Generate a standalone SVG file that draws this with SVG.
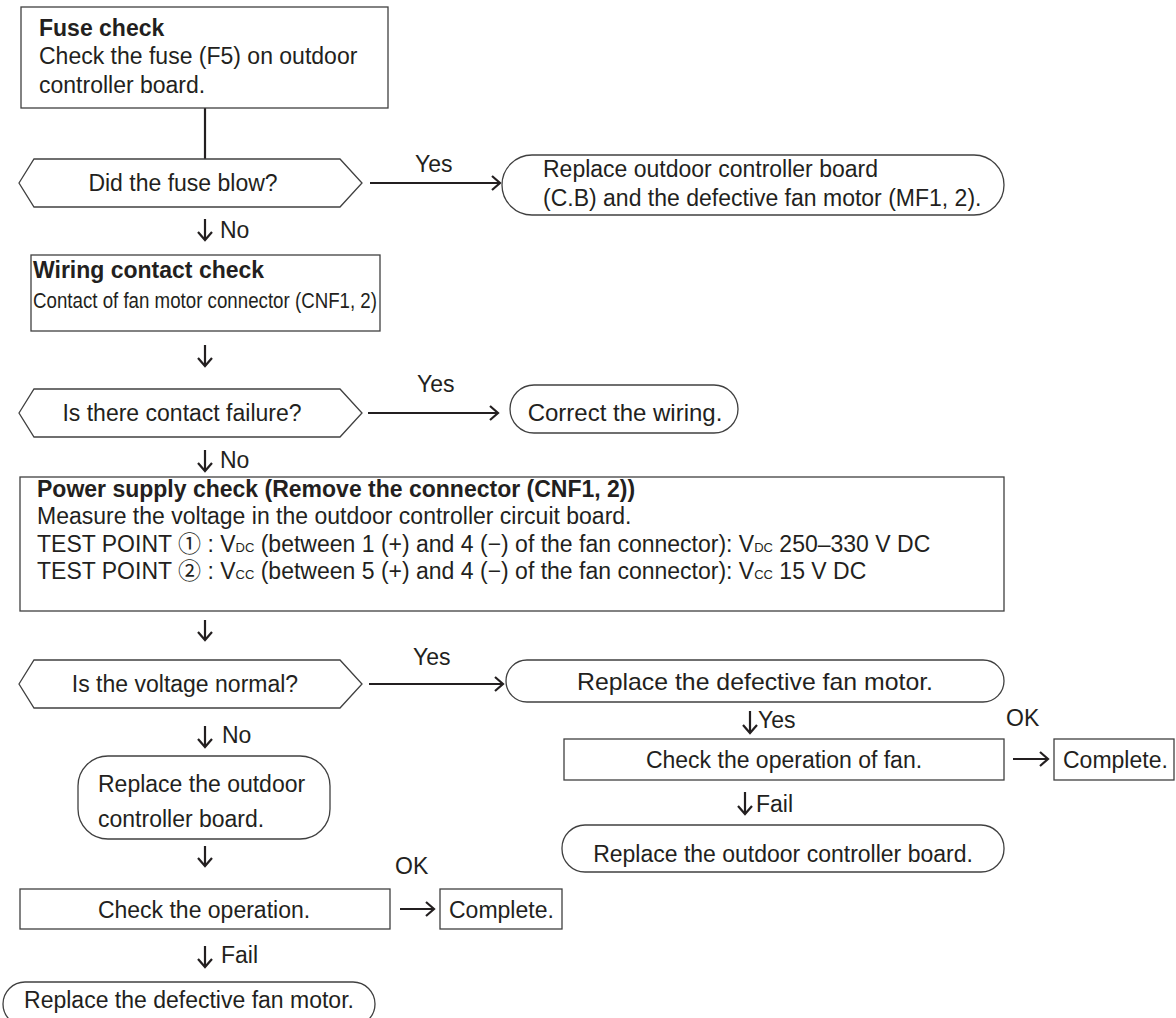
<svg xmlns="http://www.w3.org/2000/svg" width="1176" height="1018" viewBox="0 0 1176 1018">
<style>
text{font-family:"Liberation Sans","Noto Sans CJK JP",sans-serif;font-size:23px;fill:#231f20}
.b{font-weight:bold}
.box{fill:#fff;stroke:#404040;stroke-width:1.3}
.con{fill:none;stroke:#231f20;stroke-width:2.2}
.sub{font-size:13px}
.m{text-anchor:middle}
</style>
<defs>
<marker id="ah" markerWidth="16" markerHeight="16" refX="11" refY="8" orient="auto" markerUnits="userSpaceOnUse">
<path d="M3,1 L11,8 L3,15" fill="none" stroke="#231f20" stroke-width="2.2"/>
</marker>
</defs>
<rect width="1176" height="1018" fill="#fff"/>
<g id="connectors">
<path class="con" d="M205,108 V159"/>
<path class="con" d="M370,183 H500" marker-end="url(#ah)"/>
<path class="con" d="M205,219 V240" marker-end="url(#ah)"/>
<path class="con" d="M205,345 V366" marker-end="url(#ah)"/>
<path class="con" d="M368,413 H498" marker-end="url(#ah)"/>
<path class="con" d="M205,450 V471" marker-end="url(#ah)"/>
<path class="con" d="M205,620 V640" marker-end="url(#ah)"/>
<path class="con" d="M369,684 H503" marker-end="url(#ah)"/>
<path class="con" d="M205,726 V747" marker-end="url(#ah)"/>
<path class="con" d="M750,711 V733" marker-end="url(#ah)"/>
<path class="con" d="M1013,759 H1048" marker-end="url(#ah)"/>
<path class="con" d="M745,792 V814" marker-end="url(#ah)"/>
<path class="con" d="M205,846 V866" marker-end="url(#ah)"/>
<path class="con" d="M400,909 H434" marker-end="url(#ah)"/>
<path class="con" d="M205,946 V967" marker-end="url(#ah)"/>
<text x="415" y="172">Yes</text>
<text x="220" y="238">No</text>
<text x="417" y="392">Yes</text>
<text x="220" y="468">No</text>
<text x="413" y="665">Yes</text>
<text x="222" y="743">No</text>
<text x="758" y="728">Yes</text>
<text x="1006" y="726">OK</text>
<text x="756" y="812">Fail</text>
<text x="395" y="874">OK</text>
<text x="221" y="963">Fail</text>
</g>
<g id="n_fuse">
<rect class="box" x="21" y="7" width="367" height="101"/>
<text class="b" x="39" y="36">Fuse check</text>
<text x="39" y="64">Check the fuse (F5) on outdoor</text>
<text x="39" y="93">controller board.</text>
</g>
<g id="n_fuse_blow">
<polygon class="box" points="19,183 34,159 340,159 362,183 340,207 34,207"/>
<text class="m" x="183" y="191">Did the fuse blow?</text>
</g>
<g id="n_replace_cb_motor">
<rect class="box" x="502" y="155" width="502" height="60" rx="30" ry="30"/>
<text x="543" y="177">Replace outdoor controller board</text>
<text x="543" y="206">(C.B) and the defective fan motor (MF1, 2).</text>
</g>
<g id="n_wiring">
<rect class="box" x="31" y="255" width="349" height="76"/>
<text class="b" x="33" y="278">Wiring contact check</text>
<text x="33" y="308" style="font-size:22px" textLength="344" lengthAdjust="spacingAndGlyphs">Contact of fan motor connector (CNF1, 2)</text>
</g>
<g id="n_contact_fail">
<polygon class="box" points="19,413 34,389 340,389 362,413 340,437 34,437"/>
<text class="m" x="182" y="421">Is there contact failure?</text>
</g>
<g id="n_correct_wiring">
<rect class="box" x="510" y="385" width="228" height="48" rx="24" ry="24"/>
<text class="m" x="625" y="421" style="font-size:24px">Correct the wiring.</text>
</g>
<g id="n_power">
<rect class="box" x="20" y="477" width="984" height="134"/>
<text class="b" x="37" y="497">Power supply check (Remove the connector (CNF1, 2))</text>
<text x="37" y="524">Measure the voltage in the outdoor controller circuit board.</text>
<text x="37" y="552">TEST POINT ① : V<tspan class="sub">DC</tspan> (between 1 (+) and 4 (−) of the fan connector): V<tspan class="sub">DC</tspan> 250–330 V DC</text>
<text x="37" y="579">TEST POINT ② : V<tspan class="sub">CC</tspan> (between 5 (+) and 4 (−) of the fan connector): V<tspan class="sub">CC</tspan> 15 V DC</text>
</g>
<g id="n_voltage_normal">
<polygon class="box" points="19,684 34,660 340,660 362,684 340,708 34,708"/>
<text class="m" x="185" y="692">Is the voltage normal?</text>
</g>
<g id="n_replace_motor_r">
<rect class="box" x="506" y="660" width="498" height="42" rx="21" ry="21"/>
<text class="m" x="755" y="690" style="font-size:24px" textLength="356" lengthAdjust="spacingAndGlyphs">Replace the defective fan motor.</text>
</g>
<g id="n_check_fan">
<rect class="box" x="564" y="739" width="440" height="41"/>
<text class="m" x="784" y="768">Check the operation of fan.</text>
</g>
<g id="n_complete_r">
<rect class="box" x="1054" y="739" width="120" height="41"/>
<text x="1063" y="768">Complete.</text>
</g>
<g id="n_replace_cb_r">
<rect class="box" x="562" y="825" width="442" height="47" rx="23" ry="23"/>
<text class="m" x="783" y="862">Replace the outdoor controller board.</text>
</g>
<g id="n_replace_cb_l">
<rect class="box" x="78" y="756" width="252" height="83" rx="30" ry="30"/>
<text x="98" y="792">Replace the outdoor</text>
<text x="98" y="827">controller board.</text>
</g>
<g id="n_check_op">
<rect class="box" x="20" y="889" width="370" height="40"/>
<text class="m" x="204" y="918">Check the operation.</text>
</g>
<g id="n_complete_l">
<rect class="box" x="440" y="889" width="122" height="40"/>
<text x="449" y="918">Complete.</text>
</g>
<g id="n_replace_motor_l">
<rect class="box" x="3" y="982" width="372" height="44" rx="22" ry="22"/>
<text class="m" x="189" y="1008">Replace the defective fan motor.</text>
</g>
</svg>
